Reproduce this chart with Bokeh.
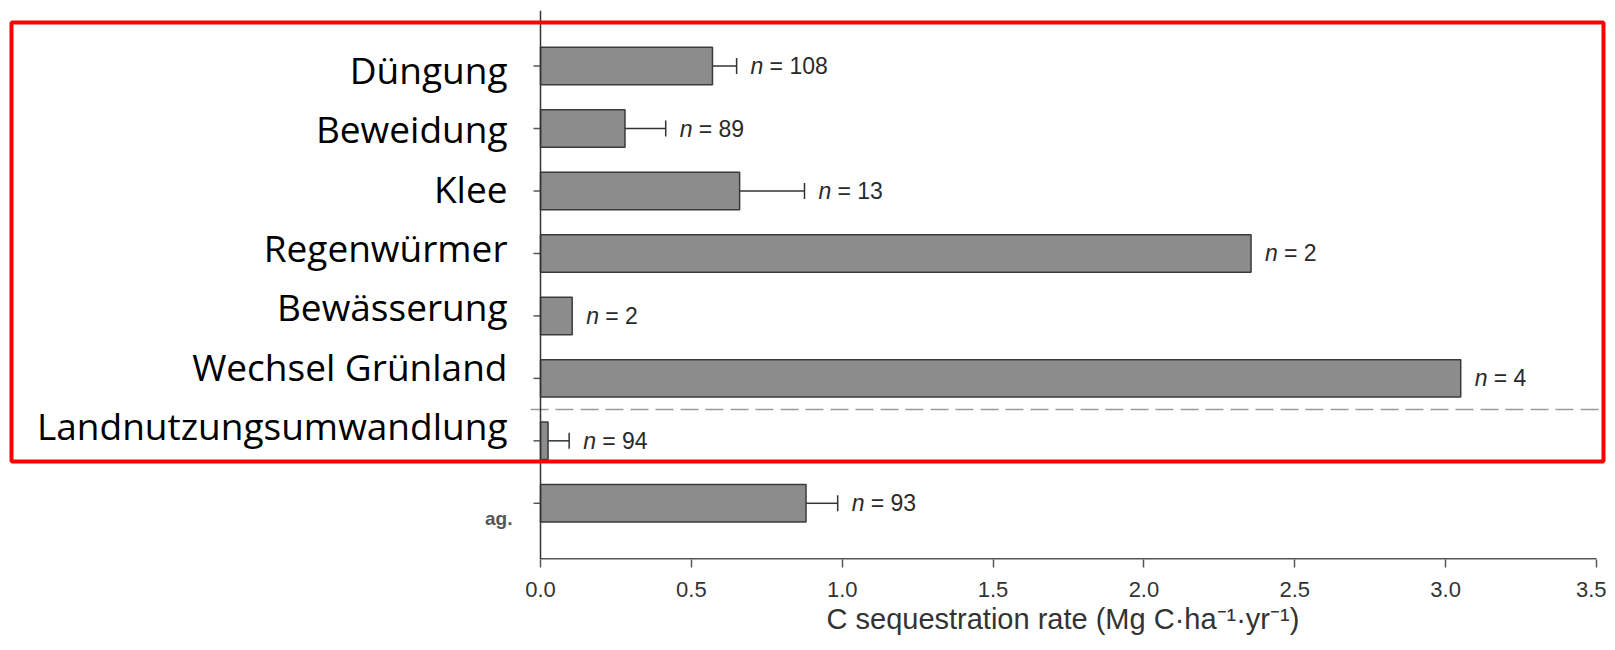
import math
from bokeh.plotting import figure
from bokeh.models import (ColumnDataSource, Range1d, FixedTicker, Span, BoxAnnotation,
                          Whisker, TeeHead, PrintfTickFormatter, Title)
from bokeh.core.properties import value
from bokeh.embed import file_html
from bokeh.resources import INLINE

# ---- data ----
categories = ["Düngung", "Beweidung", "Klee", "Regenwürmer", "Bewässerung",
              "Wechsel Grünland", "Landnutzungsumwandlung", "ag."]
rates = [0.57, 0.28, 0.66, 2.355, 0.105, 3.05, 0.025, 0.88]
errors = [0.08, 0.135, 0.215, 0.0, 0.0, 0.0, 0.07, 0.105]
n_counts = [108, 89, 13, 2, 2, 4, 94, 93]
x_ticks = [0.0, 0.5, 1.0, 1.5, 2.0, 2.5, 3.0, 3.5]
x_title = "C sequestration rate (Mg C·ha⁻¹·yr⁻¹)"

# ---- layout (pixels) ----
W, H = 1606, 642
TOP, BOTTOM = 10, 83
AXIS_X0_PX, AXIS_X35_PX = 540, 1596          # where 0.0 and 3.5 sit on the canvas
px_per = (AXIS_X35_PX - AXIS_X0_PX) / (x_ticks[-1] - x_ticks[0])
x_start = x_ticks[0] - AXIS_X0_PX / px_per
x_end = x_ticks[-1] + (W - AXIS_X35_PX) / px_per
y_bottom, y_top = 7.90, -0.89
row_px = (H - TOP - BOTTOM) / (y_bottom - y_top)
# the pasted-on German labels use a slightly tighter line pitch than the bars
LABEL_FIRST_PX, LABEL_PITCH_PX = 69, 59.3

pos = list(range(len(categories)))
hi = [r + e for r, e in zip(rates, errors)]

src = ColumnDataSource(dict(pos=pos, rate=rates, hi=hi,
                            nlab=["n"] * len(pos),
                            vlab=["= %d" % n for n in n_counts]))
err_idx = [i for i, e in enumerate(errors) if e > 0]
err_src = ColumnDataSource(dict(pos=[pos[i] for i in err_idx],
                                rate=[rates[i] for i in err_idx],
                                hi=[hi[i] for i in err_idx]))
lab_pos = pos[:-1]
lab_shift = [LABEL_FIRST_PX + LABEL_PITCH_PX * i - (TOP + (i - y_top) * row_px) for i in lab_pos]
lab_src = ColumnDataSource(dict(pos=lab_pos, name=categories[:-1], dy=lab_shift))

p = figure(width=W, height=H, output_backend="svg", toolbar_location=None,
           x_range=Range1d(x_start, x_end), y_range=Range1d(y_bottom, y_top),
           y_axis_location=None,
           min_border_left=0, min_border_right=0, min_border_top=TOP,
           min_border_bottom=BOTTOM)
p.outline_line_color = None
p.xgrid.visible = False
p.ygrid.visible = False
p.background_fill_color = "white"

# bars
p.hbar(y="pos", left=0, right="rate", height=0.6, source=src,
       fill_color="#8c8c8c", line_color="#3a3a3a", line_width=1.5)

# one-sided error bars
p.add_layout(Whisker(source=err_src, base="pos", lower="rate", upper="hi",
                     dimension="width", line_color="#333333", line_width=1.5,
                     lower_head=None,
                     upper_head=TeeHead(size=16, line_color="#333333", line_width=1.5)))

# n labels
p.text(x="hi", y="pos", text="nlab", source=src, x_offset=14,
       text_baseline="middle", text_font=value("Liberation Sans"),
       text_font_style="italic", text_font_size="23px", text_color="#2a2a2a")
p.text(x="hi", y="pos", text="vlab", source=src, x_offset=33,
       text_baseline="middle", text_font=value("Liberation Sans"),
       text_font_size="23px", text_color="#2a2a2a")

# y axis drawn at x = 0
p.add_layout(Span(location=0, dimension="height", line_color="#333333", line_width=1.5))
p.ray(x=0, y=pos, length=7, length_units="screen", angle=math.pi,
      line_color="#555555", line_width=1.5)
p.text(x=0, y="pos", text="name", source=lab_src, x_offset=-33, y_offset="dy",
       text_align="right", text_baseline="middle", text_font=value("Open Sans"),
       text_font_size="37px", text_color="black")
p.text(x=[0], y=[pos[-1]], text=[categories[-1]], x_offset=-28, y_offset=15,
       text_align="right", text_baseline="middle", text_font=value("Liberation Sans"),
       text_font_style="bold", text_font_size="19px", text_color="#555555")

# x axis line from first to last tick
p.segment(x0=[x_ticks[0]], x1=[x_ticks[-1]], y0=[y_bottom], y1=[y_bottom],
          line_color="#555555", line_width=3)

# dashed separator
p.segment(x0=[x_ticks[0] - 10 / px_per], x1=[x_ticks[-1] + 4 / px_per], y0=[5.5], y1=[5.5],
          line_color="#9a9a9a", line_width=1.5, line_dash="18 7")

# x axis (ticks and labels)
xa = p.xaxis[0]
xa.ticker = FixedTicker(ticks=x_ticks)
xa.formatter = PrintfTickFormatter(format="%.1f")
xa.minor_tick_line_color = None
xa.major_tick_in = 0
xa.major_tick_out = 8
xa.axis_line_color = None
xa.major_tick_line_color = "#555555"
xa.major_tick_line_width = 1.5
xa.major_label_text_font = "Liberation Sans"
xa.major_label_text_font_size = "22px"
xa.major_label_text_color = "#333333"
xa.major_label_standoff = 14

# axis title placed under the axis, starting where the original's starts
p.add_layout(Title(text=x_title, align="left", offset=826, standoff=3,
                   text_font="Liberation Sans", text_font_size="29px",
                   text_font_style="normal", text_color="#333333"), "below")

# red highlight box
p.add_layout(BoxAnnotation(left=11, right=1603, top=22, bottom=461,
                           left_units="canvas", right_units="canvas",
                           top_units="canvas", bottom_units="canvas",
                           fill_alpha=0, line_alpha=1, line_color="#ff0000", line_width=4))

open("out.html", "w").write(file_html(p, INLINE))
